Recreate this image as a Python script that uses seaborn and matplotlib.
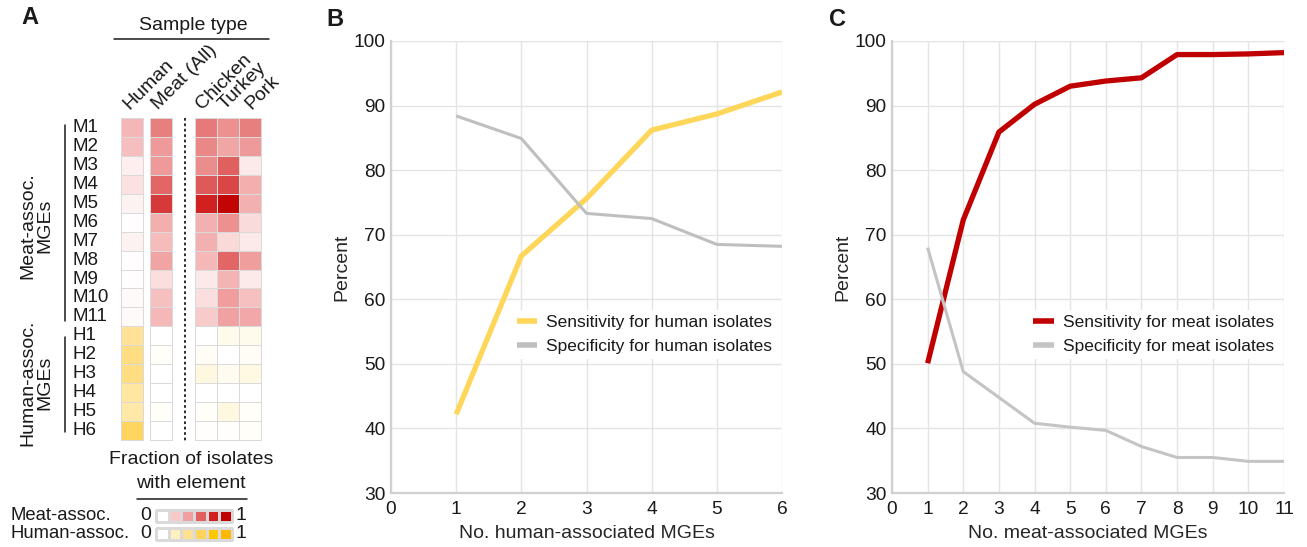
import numpy as np
import pandas as pd
import matplotlib
matplotlib.use("Agg")
import matplotlib.pyplot as plt
import seaborn as sns
from matplotlib.colors import LinearSegmentedColormap
from matplotlib.lines import Line2D

# ---------------- data ----------------
rows = [f"M{i}" for i in range(1, 12)] + [f"H{i}" for i in range(1, 7)]
sample_types = ["Human", "Meat (All)", "Chicken", "Turkey", "Pork"]

human    = [0.29, 0.25, 0.06, 0.11, 0.05, 0.01, 0.05, 0.01, 0.01, 0.02, 0.02,
            0.38, 0.45, 0.45, 0.33, 0.30, 0.58]
meat_all = [0.50, 0.42, 0.42, 0.58, 0.72, 0.33, 0.26, 0.38, 0.12, 0.24, 0.28,
            0.00, 0.02, 0.00, 0.00, 0.02, 0.00]
chicken  = [0.52, 0.48, 0.46, 0.62, 0.80, 0.32, 0.32, 0.28, 0.08, 0.12, 0.19,
            0.00, 0.03, 0.10, 0.00, 0.02, 0.01]
turkey   = [0.45, 0.37, 0.60, 0.68, 0.97, 0.45, 0.14, 0.58, 0.30, 0.41, 0.39,
            0.06, 0.00, 0.05, 0.00, 0.10, 0.01]
pork     = [0.50, 0.42, 0.08, 0.33, 0.32, 0.13, 0.08, 0.41, 0.08, 0.24, 0.36,
            0.06, 0.03, 0.09, 0.00, 0.02, 0.02]

legend_steps = [0.0, 0.2, 0.4, 0.6, 0.8, 1.0]

n_human = [1, 2, 3, 4, 5, 6]
sens_human = [42.2, 66.7, 75.6, 86.2, 88.7, 92.1]
spec_human = [88.4, 84.9, 73.3, 72.5, 68.5, 68.2]

n_meat = [1, 2, 3, 4, 5, 6, 7, 8, 9, 10, 11]
sens_meat = [50.1, 72.3, 85.9, 90.2, 93.0, 93.8, 94.3, 97.9, 97.9, 98.0, 98.2]
spec_meat = [68.0, 48.8, 44.8, 40.8, 40.2, 39.7, 37.2, 35.5, 35.5, 34.9, 34.9]

# ---------------- style ----------------
sns.set_theme(style="white")
plt.rcParams["font.family"] = ["Liberation Sans", "DejaVu Sans"]
plt.rcParams["text.color"] = "#1a1a1a"

W, H = 1307, 547
fig = plt.figure(figsize=(W / 100, H / 100), dpi=100)
FS = 14  # heatmap panel text


def box(x0, y0, x1, y1):
    return [x0 / W, 1 - y1 / H, (x1 - x0) / W, (y1 - y0) / H]


def fx(x):
    return x / W


def fy(y):
    return 1 - y / H


red_cmap = LinearSegmentedColormap.from_list(
    "meat", list(zip(legend_steps,
                     ["#ffffff", "#f8c8c8", "#f0a0a0", "#e06060", "#d02020", "#c00000"])))
yellow_cmap = LinearSegmentedColormap.from_list(
    "hum", list(zip(legend_steps,
                    ["#ffffff", "#fff0c0", "#ffe090", "#ffd45a", "#ffc800", "#ffb800"])))

table = pd.DataFrame({"Human": human, "Meat (All)": meat_all, "Chicken": chicken,
                      "Turkey": turkey, "Pork": pork}, index=rows)
is_h = table.index.str.startswith("H")
EDGE = "#dadada"


def draw_cells(ax, frame):
    hide_h = np.repeat(np.asarray(is_h)[:, None], frame.shape[1], axis=1)
    sns.heatmap(frame, mask=hide_h, cmap=red_cmap, vmin=0, vmax=1, cbar=False,
                linewidths=0.6, linecolor=EDGE, ax=ax)
    sns.heatmap(frame, mask=~hide_h, cmap=yellow_cmap, vmin=0, vmax=1, cbar=False,
                linewidths=0.6, linecolor=EDGE, ax=ax)
    for c in ax.collections:
        c.set_clip_on(False)
    ax.set_xticks([])
    ax.set_yticks([])
    ax.set_xlabel("")
    ax.set_ylabel("")
    for s in ax.spines.values():
        s.set_visible(False)


TOP, BOT = 118, 440
ax_h = fig.add_axes(box(121, TOP, 143, BOT))
ax_m = fig.add_axes(box(150, TOP, 172, BOT))
ax_s = fig.add_axes(box(195, TOP, 261, BOT))
draw_cells(ax_h, table[["Human"]])
draw_cells(ax_m, table[["Meat (All)"]])
draw_cells(ax_s, table[["Chicken", "Turkey", "Pork"]])

# row labels
row_h = (BOT - TOP) / len(rows)
for i, r in enumerate(rows):
    fig.text(fx(73), fy(TOP + (i + 0.5) * row_h), r, ha="left", va="center", fontsize=13.5)

# brackets + group labels
fig.add_artist(Line2D([fx(65), fx(65)], [fy(125), fy(321)], color="#1a1a1a", lw=1.1))
fig.add_artist(Line2D([fx(65), fx(65)], [fy(337), fy(432)], color="#1a1a1a", lw=1.1))
fig.text(fx(36.5), fy(TOP + 5.7 * row_h), "Meat-assoc.\nMGEs", rotation=90, ha="center",
         va="center", multialignment="center", fontsize=FS, linespacing=1.05)
fig.text(fx(36.5), fy(TOP + 14.0 * row_h), "Human-assoc.\nMGEs", rotation=90, ha="center",
         va="center", multialignment="center", fontsize=FS, linespacing=1.05)

# column labels (baseline start of each rotated label)
label_x = [129, 158, 202, 225, 251]
for name, lx in zip(sample_types, label_x):
    fig.text(fx(lx), fy(110), name, rotation=45, rotation_mode="anchor",
             ha="left", va="baseline", fontsize=FS)
fig.text(fx(193), fy(25), "Sample type", ha="center", va="center", fontsize=FS)
fig.add_artist(Line2D([fx(114), fx(269)], [fy(39), fy(39)], color="#1a1a1a", lw=1.1))

# dotted separator
fig.add_artist(Line2D([fx(185), fx(185)], [fy(118), fy(442)], color="#1a1a1a", lw=1.3,
                      ls=(0, (1.5, 1.5))))

# colour key
fig.text(fx(191), fy(460), "Fraction of isolates", ha="center", va="center", fontsize=FS)
fig.text(fx(191), fy(484), "with element", ha="center", va="center", fontsize=FS)
fig.add_artist(Line2D([fx(137), fx(247)], [fy(499), fy(499)], color="#1a1a1a", lw=1.1))

key = pd.DataFrame([legend_steps])
for cmap, (y0, y1), lab, zx in [(red_cmap, (510, 522), "Meat-assoc.", 146),
                                (yellow_cmap, (528, 540), "Human-assoc.", 146)]:
    kax = fig.add_axes(box(156, y0, 232, y1))
    sns.heatmap(key, cmap=cmap, vmin=0, vmax=1, cbar=False, linewidths=0.8,
                linecolor=EDGE, ax=kax)
    for c in kax.collections:
        c.set_clip_on(False)
    kax.set_xticks([])
    kax.set_yticks([])
    kax.set_xlabel("")
    kax.set_ylabel("")
    yc = (y0 + y1) / 2
    fig.text(fx(10), fy(yc), lab, ha="left", va="center", fontsize=13.3)
    fig.text(fx(zx), fy(yc), "0", ha="center", va="center", fontsize=FS)
    fig.text(fx(241), fy(yc), "1", ha="center", va="center", fontsize=FS)

# ---------------- line panels ----------------
GRID = "#e4e4e4"
SPINE = "#d0d0d0"


def style_line_axes(ax, xmax, xlabel):
    ax.set_xlim(0, xmax)
    ax.set_ylim(30, 100)
    ax.set_xticks(range(0, xmax + 1))
    ax.set_yticks(range(30, 101, 10))
    ax.grid(True, color=GRID, lw=1)
    ax.set_axisbelow(True)
    for side in ["top", "right"]:
        ax.spines[side].set_visible(False)
    for side in ["left", "bottom"]:
        ax.spines[side].set_color(SPINE)
        ax.spines[side].set_linewidth(1.6)
    ax.tick_params(axis="both", length=0, labelsize=13.8, colors="#1a1a1a")
    ax.tick_params(axis="y", pad=4)
    ax.tick_params(axis="x", pad=6)
    ax.set_ylabel("Percent", fontsize=14, labelpad=2)
    ax.set_xlabel(xlabel, fontsize=14, labelpad=5)
    ax.set_facecolor("white")


def add_legend(ax):
    leg = ax.legend(loc="upper right", bbox_to_anchor=(1.01, 0.425), frameon=True,
                    facecolor="white", edgecolor="none", framealpha=1, fontsize=12.5,
                    handlelength=1.2, handletextpad=0.5, borderpad=0.3,
                    labelspacing=0.5)
    for h in leg.legend_handles:
        h.set_linewidth(4.0)
        h.set_solid_capstyle("butt")


ax_b = fig.add_axes(box(391, 41, 782, 493))
sns.lineplot(x=n_human, y=sens_human, color="#fdd65a", lw=3.8, ax=ax_b,
             label="Sensitivity for human isolates")
sns.lineplot(x=n_human, y=spec_human, color="#bfbfbf", lw=2.2, ax=ax_b,
             label="Specificity for human isolates")
style_line_axes(ax_b, 6, "No. human-associated MGEs")
add_legend(ax_b)

ax_c = fig.add_axes(box(892, 41, 1284, 493))
sns.lineplot(x=n_meat, y=sens_meat, color="#c00000", lw=3.8, ax=ax_c,
             label="Sensitivity for meat isolates")
sns.lineplot(x=n_meat, y=spec_meat, color="#c4c4c4", lw=2.2, ax=ax_c,
             label="Specificity for meat isolates")
style_line_axes(ax_c, 11, "No. meat-associated MGEs")
add_legend(ax_c)

for ln in ax_b.lines + ax_c.lines:
    ln.set_solid_joinstyle("round")
    ln.set_solid_capstyle("butt")

# panel letters
fig.text(fx(30), fy(18), "A", ha="center", va="center", fontsize=17, fontweight="bold")
fig.text(fx(335), fy(20), "B", ha="center", va="center", fontsize=17, fontweight="bold")
fig.text(fx(838), fy(20), "C", ha="center", va="center", fontsize=17, fontweight="bold")

fig.savefig("out.png", dpi=100, facecolor="white")
